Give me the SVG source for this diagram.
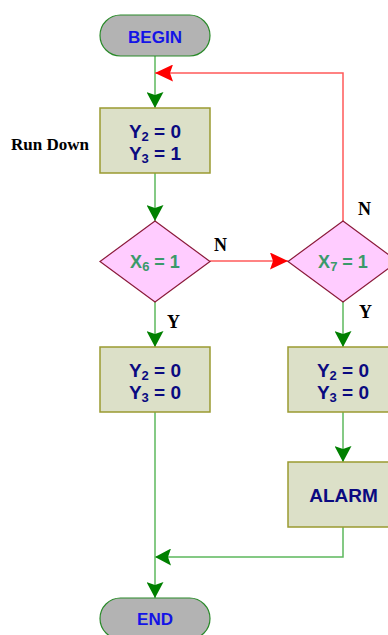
<svg xmlns="http://www.w3.org/2000/svg" width="388" height="635" viewBox="0 0 388 635">
<defs>
<style>
.term{fill:#b3b3b3;stroke:#2a8a2a;stroke-width:1.2}
.box{fill:#dce0c8;stroke:#9a9a30;stroke-width:1.5}
.dia{fill:#ffccff;stroke:#8b1a3a;stroke-width:1.2}
.tt{font-family:"Liberation Sans",Arial,sans-serif;font-weight:bold;font-size:17px;fill:#1414e6;text-anchor:middle}
.bt{font-family:"Liberation Sans",Arial,sans-serif;font-weight:bold;font-size:19px;fill:#0a0a80;text-anchor:middle}
.dt{font-family:"Liberation Sans",Arial,sans-serif;font-weight:bold;font-size:18px;fill:#3a9a6a;text-anchor:middle}
.lb{font-family:"Liberation Serif","Times New Roman",serif;font-weight:bold;font-size:18px;fill:#000}
.rd{font-family:"Liberation Serif","Times New Roman",serif;font-weight:bold;font-size:17px;fill:#000}
.sub{font-size:13px}
.g{fill:none;stroke:#5cb85c;stroke-width:1.5}
.r{fill:none;stroke:#ff5a5a;stroke-width:1.5}
</style>
<marker id="ag" viewBox="0 0 16 17" refX="16" refY="8.5" markerWidth="16" markerHeight="17" markerUnits="userSpaceOnUse" orient="auto">
<path d="M0,0 L16,8.5 L0,17 L3,8.5 Z" fill="#008000"/>
</marker>
<marker id="ar" viewBox="0 0 18 17" refX="18" refY="8.5" markerWidth="18" markerHeight="17" markerUnits="userSpaceOnUse" orient="auto">
<path d="M0,0 L18,8.5 L0,17 L3,8.5 Z" fill="#ff0000"/>
</marker>
</defs>
<g id="connectors">
<path class="g" d="M155,56 V108" marker-end="url(#ag)"/>
<path class="r" d="M343,221 V73 H155" marker-end="url(#ar)"/>
<path class="g" d="M155,173 V221" marker-end="url(#ag)"/>
<path class="r" d="M210,261 H288" marker-end="url(#ar)"/>
<path class="g" d="M155,302 V347" marker-end="url(#ag)"/>
<path class="g" d="M343,302 V347" marker-end="url(#ag)"/>
<path class="g" d="M343,412 V462" marker-end="url(#ag)"/>
<path class="g" d="M343,527 V557 H155" marker-end="url(#ag)"/>
<path class="g" d="M155,412 V598" marker-end="url(#ag)"/>
</g>
<g id="begin">
<rect class="term" x="100" y="15" width="110" height="41" rx="20.5"/>
<text class="tt" x="155" y="43">BEGIN</text>
</g>
<g id="rundown">
<rect class="box" x="100" y="108" width="110" height="65"/>
<text class="bt" x="155" y="138">Y<tspan class="sub" dy="3">2</tspan><tspan dy="-3"> = 0</tspan></text>
<text class="bt" x="155" y="160">Y<tspan class="sub" dy="3">3</tspan><tspan dy="-3"> = 1</tspan></text>
<text class="rd" x="11" y="150">Run Down</text>
</g>
<g id="dec1">
<polygon class="dia" points="155,221 210,261.5 155,302 100,261.5"/>
<text class="dt" x="155" y="268">X<tspan class="sub" dy="3">6</tspan><tspan dy="-3"> = 1</tspan></text>
</g>
<g id="dec2">
<polygon class="dia" points="343,221 398,261.5 343,302 288,261.5"/>
<text class="dt" x="343" y="268">X<tspan class="sub" dy="3">7</tspan><tspan dy="-3"> = 1</tspan></text>
</g>
<g id="box2">
<rect class="box" x="100" y="347" width="110" height="65"/>
<text class="bt" x="155" y="377">Y<tspan class="sub" dy="3">2</tspan><tspan dy="-3"> = 0</tspan></text>
<text class="bt" x="155" y="399">Y<tspan class="sub" dy="3">3</tspan><tspan dy="-3"> = 0</tspan></text>
</g>
<g id="box3">
<rect class="box" x="288" y="347" width="110" height="65"/>
<text class="bt" x="343" y="377">Y<tspan class="sub" dy="3">2</tspan><tspan dy="-3"> = 0</tspan></text>
<text class="bt" x="343" y="399">Y<tspan class="sub" dy="3">3</tspan><tspan dy="-3"> = 0</tspan></text>
</g>
<g id="alarm">
<rect class="box" x="288" y="462" width="110" height="65"/>
<text class="bt" x="343.5" y="502">ALARM</text>
</g>
<g id="end">
<rect class="term" x="100" y="598" width="110" height="41" rx="20.5"/>
<text class="tt" x="155" y="625">END</text>
</g>
<g id="labels">
<text class="lb" x="214" y="251">N</text>
<text class="lb" x="358" y="215">N</text>
<text class="lb" x="167" y="328">Y</text>
<text class="lb" x="359" y="318">Y</text>
</g>
</svg>
